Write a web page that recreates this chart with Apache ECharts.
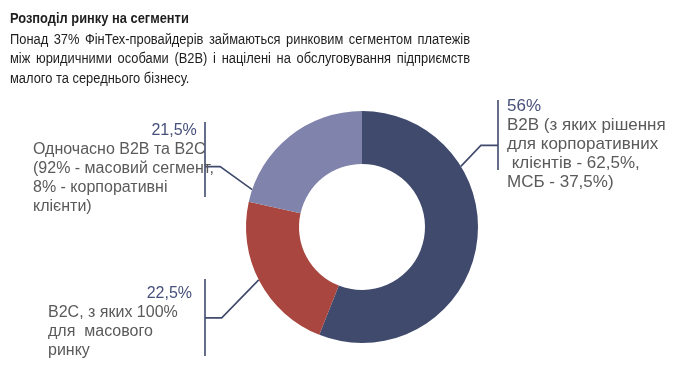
<!DOCTYPE html>
<html><head><meta charset="utf-8">
<script src="https://cdn.jsdelivr.net/npm/echarts@6/dist/echarts.min.js"></script>
<style>html,body{margin:0;padding:0;background:#fff}#c{width:680px;height:371px}</style>
</head><body><div id="c"></div>
<script>
// ---- data ----
const titleText = 'Розподіл ринку на сегменти';
const subtitleLines = [
  'Понад 37% ФінТех-провайдерів займаються ринковим сегментом платежів',
  'між юридичними особами (B2B) і націлені на обслуговування підприємств',
  'малого та середнього бізнесу.'
];
const segmentNames = ['B2B', 'B2C', 'Одночасно B2B та B2C'];
const segmentValues = [56, 22.5, 21.5];
const percentLabels = ['56%', '22,5%', '21,5%'];
const descLines = [
  ['B2B (з яких рішення', 'для корпоративних', ' клієнтів - 62,5%,', 'МСБ - 37,5%)'],
  ['B2C, з яких 100%', 'для  масового', 'ринку'],
  ['Одночасно B2B та B2C', '(92% - масовий сегмент,', '8% - корпоративні', 'клієнти)']
];

// ---- style / layout ----
const colors = ['#3f4a6d', '#a8463f', '#8083ab'];
const lineColor = '#3f4a6d';
const center = [362, 227];
const radii = [63, 116];
const sans = '"Liberation Sans", Arial, sans-serif';
const labelCfg = [
  {anchor: 0.29, elbow: [20, -21], barX: 498, barTop: 100, barBottom: 170, x: 507, top: 97},
  {anchor: 0.51, elbow: [-37, 38], barX: 205, barTop: 279, barBottom: 356, x: 48, top: 284},
  {anchor: 0.08, elbow: [-32, -23], barX: 205, barTop: 122, barBottom: 197, x: 33, top: 121}
];

const total = segmentValues.reduce((a, b) => a + b, 0);
const startFrac = [];
segmentValues.reduce((acc, v, i) => { startFrac[i] = acc; return acc + v / total; }, 0);

const measureCtx = document.createElement('canvas').getContext('2d');
function justifyLine(line, x, y, width, font, sx, isLast) {
  measureCtx.font = font;
  const words = line.split(' ');
  const ws = words.map(w => measureCtx.measureText(w).width * sx);
  const sum = ws.reduce((a, b) => a + b, 0);
  const gap = isLast ? measureCtx.measureText(' ').width * sx : (width - sum) / (words.length - 1);
  let cx = x;
  return words.map((w, i) => {
    const el = {type: 'text', x: cx, y: y, scaleX: sx, style: {text: w, font: font, fill: '#1e1e1e', textVerticalAlign: 'middle'}};
    cx += ws[i] + gap;
    return el;
  });
}

const textScale = 0.92;
const subFont = '14px ' + sans;
let graphics = [{type: 'text', x: 10, y: 19, scaleX: 0.83, style: {text: titleText, font: 'bold 15.5px ' + sans, fill: '#1e1e1e', textVerticalAlign: 'middle'}}];
subtitleLines.forEach((l, i) => {
  graphics = graphics.concat(justifyLine(l, 10, 40 + i * 19.5, 460, subFont, textScale, i === subtitleLines.length - 1));
});

const chart = echarts.init(document.getElementById('c'));
chart.setOption({
  animation: false,
  graphic: graphics,
  series: [{
    type: 'pie',
    center: center,
    radius: radii,
    startAngle: 90,
    clockwise: true,
    avoidLabelOverlap: false,
    itemStyle: {borderWidth: 0},
    data: segmentNames.map((n, i) => ({name: n, value: segmentValues[i], itemStyle: {color: colors[i]}})),
    label: {
      show: true,
      position: 'outside',
      formatter: p => {
        const i = p.dataIndex;
        const pStyle = 'p' + i;
        const tStyle = i === 0 ? 'tr' : 't';
        return ['{' + pStyle + '|' + percentLabels[i] + '}'].concat(descLines[i].map(t => '{' + tStyle + '|' + t + '}')).join('\n');
      },
      rich: {
        p0: {color: '#46507a', fontSize: 17, lineHeight: 19, fontFamily: sans},
        p1: {color: '#46507a', fontSize: 16, lineHeight: 19, fontFamily: sans, align: 'right', width: 144},
        p2: {color: '#46507a', fontSize: 16, lineHeight: 19, fontFamily: sans, align: 'right', padding: [0, 17, 0, 0]},
        t: {color: '#5a5a5a', fontSize: 16, lineHeight: 19, fontFamily: sans},
        tr: {color: '#5a5a5a', fontSize: 17, lineHeight: 19, fontFamily: sans}
      }
    },
    labelLine: {show: true, smooth: false, lineStyle: {color: lineColor, width: 1.6}},
    labelLayout: params => {
      const i = params.dataIndex;
      const c = labelCfg[i];
      const frac = startFrac[i] + c.anchor * segmentValues[i] / total;
      const a = frac * Math.PI * 2;
      const sx = center[0] + radii[1] * Math.sin(a);
      const sy = center[1] - radii[1] * Math.cos(a);
      const ex = sx + c.elbow[0], ey = sy + c.elbow[1];
      return {
        x: c.x, y: c.top, align: 'left', verticalAlign: 'top',
        labelLinePoints: [[sx, sy], [ex, ey], [c.barX, ey], [c.barX, c.barTop], [c.barX, c.barBottom]]
      };
    }
  }]
});
</script>
</body></html>
